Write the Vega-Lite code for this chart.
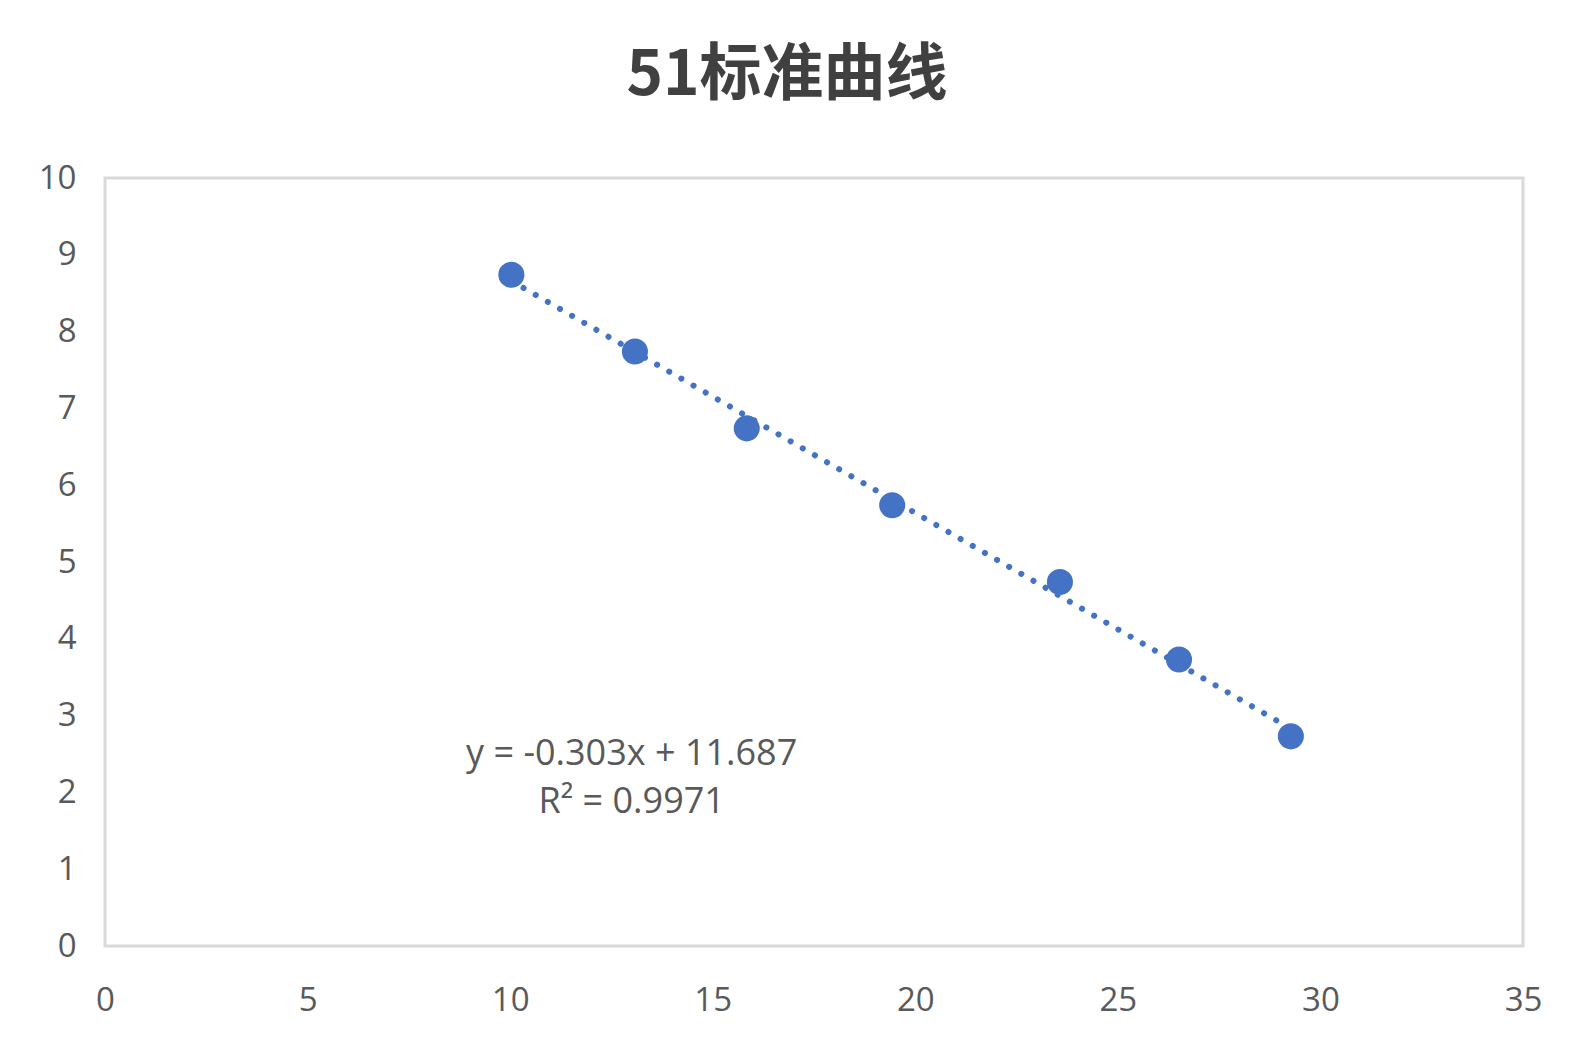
{
  "$schema": "https://vega.github.io/schema/vega-lite/v6.json",
  "autosize": {"type": "none"},
  "padding": {"left": 105, "top": 178, "right": 54, "bottom": 114},
  "width": 1418,
  "height": 768,
  "background": "white",
  "title": {
    "text": "51标准曲线",
    "font": "Noto Sans CJK SC",
    "fontSize": 62,
    "fontWeight": "bold",
    "color": "#404040",
    "anchor": "middle",
    "dx": -27,
    "offset": 54
  },
  "config": {
    "view": {"stroke": "#d9d9d9", "strokeWidth": 3},
    "axis": {
      "grid": false,
      "domain": false,
      "ticks": false,
      "title": null,
      "labelFont": "Open Sans",
      "labelFontSize": 33,
      "labelColor": "#595959",
      "labelFlush": false,
      "format": "d"
    }
  },
  "datasets": {
    "points": [
      {"x": 10.03, "y": 8.74},
      {"x": 13.08, "y": 7.74},
      {"x": 15.84, "y": 6.74},
      {"x": 19.43, "y": 5.74},
      {"x": 23.57, "y": 4.74},
      {"x": 26.51, "y": 3.73},
      {"x": 29.27, "y": 2.73}
    ],
    "labels": [
      {"x": 13.0, "y": 2.5, "label": "y = -0.303x + 11.687"},
      {"x": 13.0, "y": 1.875, "label": "R² = 0.9971"}
    ]
  },
  "layer": [
    {
      "data": {"name": "points"},
      "mark": {"type": "point", "shape": "circle", "filled": true, "opacity": 1, "color": "#4472C4", "size": 680},
      "encoding": {
        "x": {
          "field": "x",
          "type": "quantitative",
          "scale": {"domain": [0, 35], "nice": false},
          "axis": {"values": [0, 5, 10, 15, 20, 25, 30, 35], "labelPadding": 38}
        },
        "y": {
          "field": "y",
          "type": "quantitative",
          "scale": {"domain": [0, 10], "nice": false},
          "axis": {"values": [0, 1, 2, 3, 4, 5, 6, 7, 8, 9, 10], "labelPadding": 29}
        }
      }
    },
    {
      "data": {"name": "points"},
      "transform": [{"regression": "y", "on": "x", "method": "linear"}],
      "mark": {"type": "line", "color": "#4472C4", "strokeWidth": 6, "strokeCap": "round", "strokeDash": [0.1, 13.9]},
      "encoding": {
        "x": {"field": "x", "type": "quantitative"},
        "y": {"field": "y", "type": "quantitative"}
      }
    },
    {
      "data": {"name": "labels"},
      "mark": {"type": "text", "font": "Open Sans", "fontSize": 36, "color": "#595959", "align": "center", "baseline": "middle"},
      "encoding": {
        "x": {"field": "x", "type": "quantitative"},
        "y": {"field": "y", "type": "quantitative"},
        "text": {"field": "label"}
      }
    }
  ]
}
